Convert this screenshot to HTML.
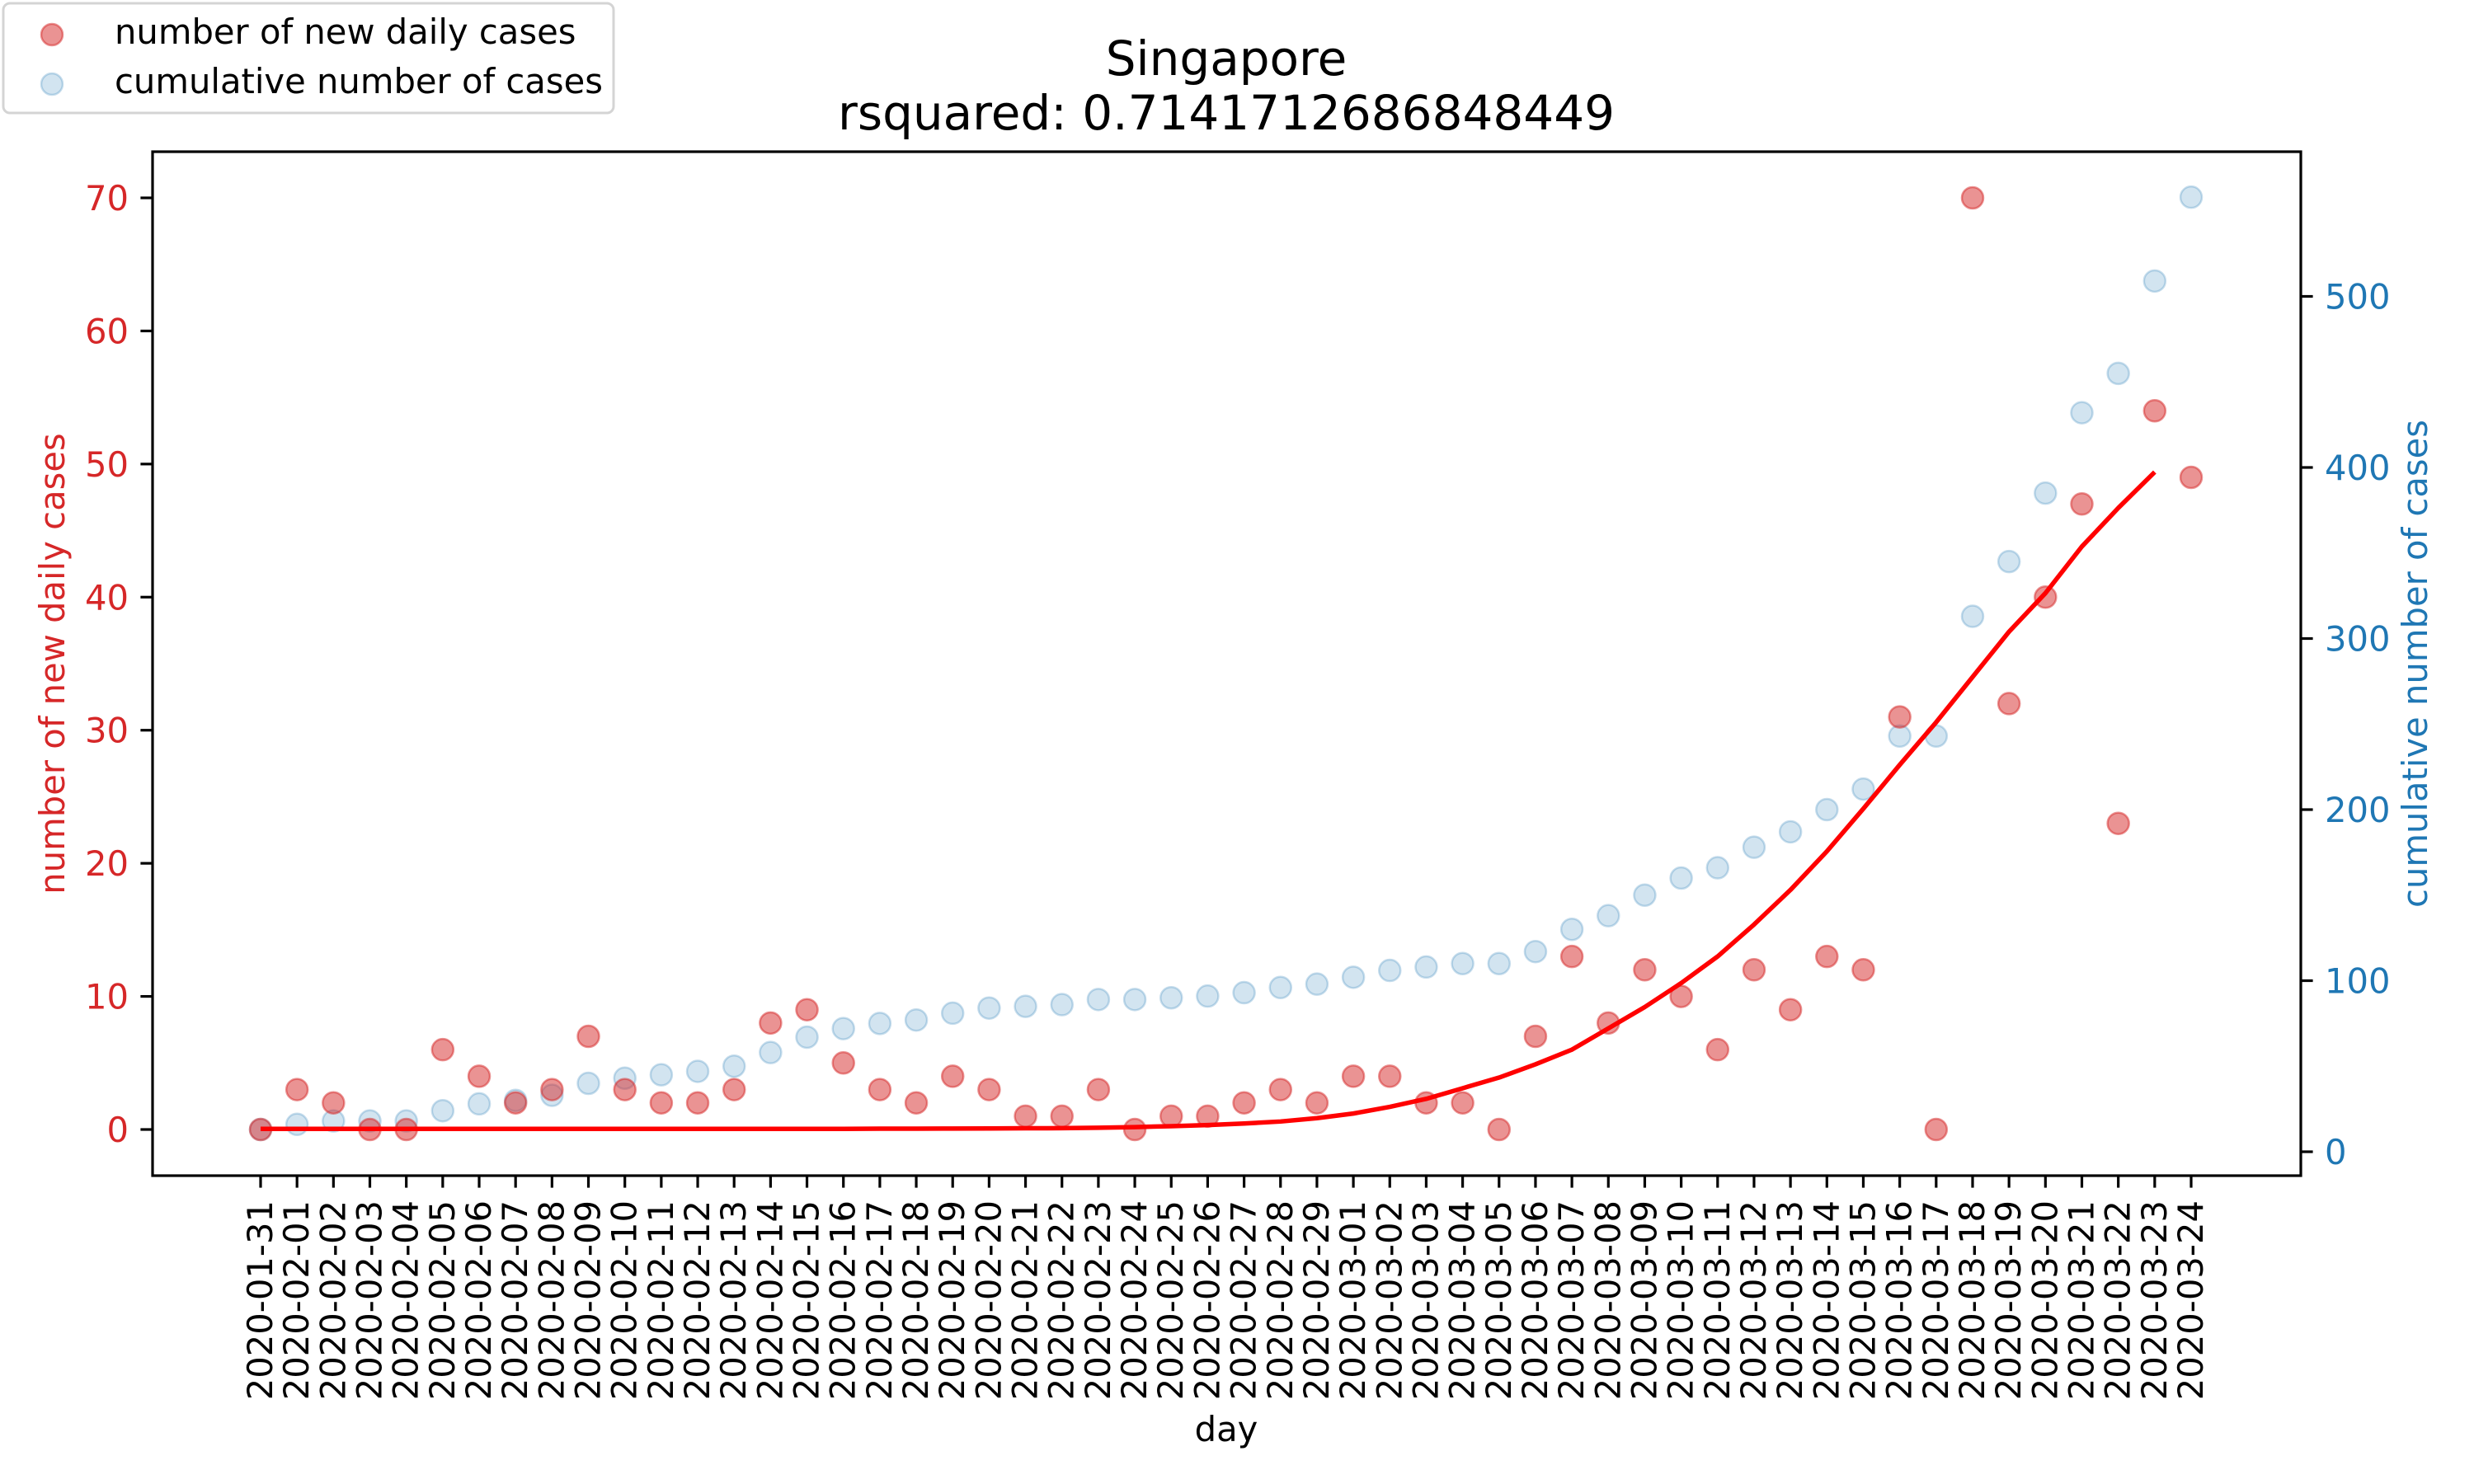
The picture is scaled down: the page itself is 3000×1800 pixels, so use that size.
<!DOCTYPE html>
<html><head><meta charset="utf-8">
<style>
html,body{margin:0;padding:0;background:#fff;}
svg{display:block;font-family:"DejaVu Sans","Liberation Sans",sans-serif;}
</style></head>
<body>
<svg id="chart" width="3000" height="1800" viewBox="0 0 3000 1800" xmlns="http://www.w3.org/2000/svg">
  <rect x="0" y="0" width="3000" height="1800" fill="#fff"/>
  <g id="plot"></g>
  <text x="1487" y="91" font-size="58" text-anchor="middle">Singapore</text>
  <text x="1487" y="157" font-size="58" text-anchor="middle">rsquared: 0.7141712686848449</text>
  <text x="1487" y="1748" font-size="41.7" text-anchor="middle">day</text>
  <text x="0" y="0" font-size="41.7" fill="#d62728" text-anchor="middle" transform="translate(78,805) rotate(-90)">number of new daily cases</text>
  <text x="0" y="0" font-size="41.7" fill="#1f77b4" text-anchor="middle" transform="translate(2943,805) rotate(-90)">cumulative number of cases</text>
  <g>
    <rect x="4" y="4" width="740" height="133" rx="8" fill="#fff" fill-opacity="0.8" stroke="#d4d4d4" stroke-width="3"/>
    <circle cx="63" cy="42" r="13" fill="#d62728" fill-opacity="0.5" stroke="#d62728" stroke-opacity="0.5" stroke-width="2.5"/>
    <text x="139" y="53" font-size="41.7">number of new daily cases</text>
    <circle cx="63" cy="102" r="13" fill="#1f77b4" fill-opacity="0.2" stroke="#1f77b4" stroke-opacity="0.25" stroke-width="2.5"/>
    <text x="139" y="113" font-size="41.7">cumulative number of cases</text>
  </g>
</svg>
<script>
const dates = ["2020-01-31","2020-02-01","2020-02-02","2020-02-03","2020-02-04","2020-02-05","2020-02-06","2020-02-07","2020-02-08","2020-02-09","2020-02-10","2020-02-11","2020-02-12","2020-02-13","2020-02-14","2020-02-15","2020-02-16","2020-02-17","2020-02-18","2020-02-19","2020-02-20","2020-02-21","2020-02-22","2020-02-23","2020-02-24","2020-02-25","2020-02-26","2020-02-27","2020-02-28","2020-02-29","2020-03-01","2020-03-02","2020-03-03","2020-03-04","2020-03-05","2020-03-06","2020-03-07","2020-03-08","2020-03-09","2020-03-10","2020-03-11","2020-03-12","2020-03-13","2020-03-14","2020-03-15","2020-03-16","2020-03-17","2020-03-18","2020-03-19","2020-03-20","2020-03-21","2020-03-22","2020-03-23","2020-03-24"];
const newCases = [0,3,2,0,0,6,4,2,3,7,3,2,2,3,8,9,5,3,2,4,3,1,1,3,0,1,1,2,3,2,4,4,2,2,0,7,13,8,12,10,6,12,9,13,12,31,0,70,32,40,47,23,54,49];
const cumulative = [13,16,18,18,18,24,28,30,33,40,43,45,47,50,58,67,72,75,77,81,84,85,86,89,89,90,91,93,96,98,102,106,108,110,110,117,130,138,150,160,166,178,187,200,212,243,243,313,345,385,432,455,509,558];
const fitValues = [0.05,0.05,0.05,0.05,0.05,0.05,0.05,0.05,0.05,0.05,0.05,0.05,0.05,0.05,0.05,0.05,0.05,0.06,0.06,0.07,0.08,0.09,0.1,0.13,0.18,0.25,0.33,0.45,0.6,0.85,1.2,1.7,2.3,3.1,3.9,4.9,6.0,7.6,9.2,11.0,13.0,15.4,18.0,20.9,24.1,27.4,30.6,34.0,37.4,40.3,43.8,46.7,49.4];
const leftTicks = [0,10,20,30,40,50,60,70];
const rightTicks = [0,100,200,300,400,500];

const NS = "http://www.w3.org/2000/svg";
const plot = document.getElementById('plot');
const AX = {l:185, r:2790, t:184, b:1426};
const x = i => 316 + i * (2657 - 316) / 53;
const yL = v => 1370 - v * (1370 - 240) / 70;
const yR = v => 1397 - v * (1397 - 359.5) / 500;
function mk(tag, attrs, parent) {
  const e = document.createElementNS(NS, tag);
  for (const k in attrs) e.setAttribute(k, attrs[k]);
  (parent || plot).appendChild(e);
  return e;
}

cumulative.forEach((v, i) => {
  const c = mk('circle', {cx: x(i), cy: yR(v), r: 13, fill: '#1f77b4', 'fill-opacity': 0.2, stroke: '#1f77b4', 'stroke-opacity': 0.25, 'stroke-width': 2.5});
  
  
});
newCases.forEach((v, i) => {
  const c = mk('circle', {cx: x(i), cy: yL(v), r: 13, fill: '#d62728', 'fill-opacity': 0.5, stroke: '#d62728', 'stroke-opacity': 0.5, 'stroke-width': 2.5});
  
  
});
const fl = mk('polyline', {points: fitValues.map((v, i) => x(i) + ',' + yL(v)).join(' '), fill: 'none', stroke: '#ff0000', 'stroke-width': 5.5, 'stroke-linejoin': 'round'});



const fr = mk('rect', {x: AX.l, y: AX.t, width: AX.r - AX.l, height: AX.b - AX.t, fill: 'none', stroke: '#000', 'stroke-width': 3.2});



dates.forEach((d, i) => {
  const t = mk('line', {x1: x(i), x2: x(i), y1: AX.b, y2: AX.b + 14.6, stroke: '#000', 'stroke-width': 3.2});
  
  
  const lb = mk('text', {x: 0, y: 0, 'font-size': 41.7, 'text-anchor': 'end', transform: 'translate(' + (x(i) + 14) + ',' + (AX.b + 30) + ') rotate(-90)'});
  lb.textContent = d;
  
  
});
leftTicks.forEach(v => {
  const t = mk('line', {x1: AX.l - 14.6, x2: AX.l, y1: yL(v), y2: yL(v), stroke: '#000', 'stroke-width': 3.2});
  
  
  const lb = mk('text', {x: AX.l - 29, y: yL(v) + 15, 'font-size': 41.7, 'text-anchor': 'end', fill: '#d62728'});
  lb.textContent = v;
  
  
});
rightTicks.forEach(v => {
  const t = mk('line', {x1: AX.r, x2: AX.r + 14.6, y1: yR(v), y2: yR(v), stroke: '#000', 'stroke-width': 3.2});
  
  
  const lb = mk('text', {x: AX.r + 29, y: yR(v) + 15, 'font-size': 41.7, 'text-anchor': 'start', fill: '#1f77b4'});
  lb.textContent = v;
  
  
});
</script>
</body></html>
